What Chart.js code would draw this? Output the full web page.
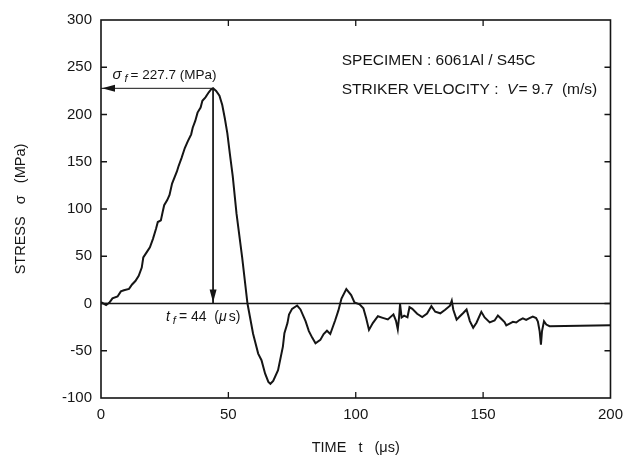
<!DOCTYPE html>
<html>
<head>
<meta charset="utf-8">
<script src="https://cdn.jsdelivr.net/npm/chart.js@4.4.1/dist/chart.umd.min.js"></script>
<style>
  html, body { margin: 0; padding: 0; background: #ffffff; }
  #wrap { width: 631px; height: 463px; }
</style>
</head>
<body>
<div id="wrap"><canvas id="c" width="631" height="463"></canvas></div>
<script>
// ---- data ----
const timeUs = [
  0, 2.0, 3.3, 4.5, 6.5, 7.8, 9.0, 11.0, 12.2, 13.5, 14.8, 16.0, 16.6, 17.9, 19.2, 20.4, 21.6, 22.3, 23.5, 24.2,
  24.8, 26.0, 26.9, 27.9, 29.8, 30.4, 31.6, 32.9, 34.1, 35.4, 36.0, 37.0, 37.9, 39.1, 39.8, 41.0, 42.3, 43.2, 44.0,
  45.2, 46.5, 47.6, 48.6, 49.6, 50.6, 51.7, 53.2, 55.4, 57.5, 59.7, 61.7, 63.0, 64.4, 65.7, 66.5, 67.6, 69.5,
  71.4, 72.0, 73.2, 73.8, 75.0, 77.0, 78.3, 80.3, 81.6, 82.9, 84.2, 86.1, 87.4, 88.7, 90.0, 91.9, 93.2, 94.4,
  96.3, 98.2, 99.5, 101.5, 103.0, 104.1, 105.2, 106.7, 108.7, 110.6, 112.6, 114.8, 115.8, 116.5, 117.0, 117.4,
  118.0, 119.0, 120.3, 121.1, 122.2, 124.1, 126.1, 128.0, 129.7, 131.2, 133.2, 135.1, 137.0, 137.7, 138.3,
  139.6, 140.9, 142.2, 143.5, 144.8, 146.1, 147.4, 149.3, 150.6, 152.6, 154.5, 155.8, 157.1, 158.4, 159.1,
  160.4, 161.7, 163.0, 164.3, 165.6, 166.9, 168.2, 169.5, 170.8, 171.5, 172.2, 172.7, 173.1, 173.9, 174.8,
  176.1, 200
];
const stressMPa = [
  1.5, -1.7, 0.9, 5.5, 7.4, 12.8, 14.0, 15.5, 20.1, 23.8, 29.2, 38.0, 48.7, 54.1, 59.4, 68.4, 79.0, 86.2, 88.0, 96.9,
  104.0, 109.4, 114.8, 126.9, 139.7, 145.0, 153.9, 164.5, 171.8, 179.0, 186.0, 193.2, 202.0, 207.4, 214.5, 218.2, 223.5, 226.5, 227.7,
  225, 220, 210, 196, 180, 158, 135, 95, 49, 0, -32, -53, -60, -74, -83, -85, -82, -70.5,
  -45.6, -31.4, -20.7, -11.8, -5.7, -2.1, -6.3, -18.7, -29.2, -36.1, -42.1, -38.5, -32.4, -28.8, -32.3, -18.0, -7.3, 5.2,
  15.2, 8.9, 1.2, -0.8, -5.0, -15.5, -27.9, -20.7, -13.5, -15.2, -16.9, -11.5, -18.4, -27.3, -14.8, -0.6,
  -14.8, -12.9, -14.6, -3.9, -5.7, -10.9, -14.3, -10.7, -2.8, -8.7, -10.4, -6.7, -2.3, 3.0, -6.6,
  -17.1, -13.5, -10.0, -6.3, -18.6, -25.7, -20.3, -8.8, -14.8, -20.0, -18.0, -12.7, -16.2, -19.6, -23.1,
  -21.2, -19.4, -20.1, -17.5, -15.7, -17.4, -15.5, -13.8, -15.4, -19.0, -29.5, -43.6, -29.5, -18.8, -22.3,
  -24.0, -23.0
];
const xTickValues = [0, 50, 100, 150, 200];
const yTickValues = [-100, -50, 0, 50, 100, 150, 200, 250, 300];
const peakTime = 44;      // t_f (µs)
const peakStress = 227.7; // sigma_f (MPa)
const specimenText = 'SPECIMEN : 6061Al / S45C';
const velocityValue = '9.7';

// ---- build datasets ----
const curve = timeUs.map((t, i) => ({ x: t, y: stressMPa[i] }));
const zeroLine = [{ x: xTickValues[0], y: 0 }, { x: xTickValues[xTickValues.length - 1], y: 0 }];
const hArrow = [{ x: peakTime, y: peakStress }, { x: 0, y: peakStress }];
const vArrow = [{ x: peakTime, y: peakStress }, { x: peakTime, y: 0 }];

const FONT = "'Liberation Sans', Arial, Helvetica, sans-serif";
const INK = '#151515';

function drawRich(ctx, x, y, parts) {
  let cx = x;
  ctx.textBaseline = 'middle';
  ctx.textAlign = 'left';
  for (const p of parts) {
    ctx.font = (p.italic ? 'italic ' : '') + p.size + 'px ' + FONT;
    const dy = p.sub ? p.size * 0.35 : 0;
    ctx.fillText(p.text, cx, y + dy);
    cx += ctx.measureText(p.text).width + (p.gap || 0);
  }
}

const framePlugin = {
  id: 'frame',
  afterDatasetsDraw(chart) {
    const { ctx, chartArea: a, scales } = chart;
    const xs = scales.x, ys = scales.y;
    ctx.save();
    ctx.strokeStyle = INK;
    ctx.fillStyle = INK;
    // frame box
    ctx.lineWidth = 1.6;
    ctx.strokeRect(a.left, a.top, a.right - a.left, a.bottom - a.top);
    // inward ticks
    ctx.lineWidth = 1.3;
    const L = 6;
    yTickValues.slice(1, -1).forEach(v => {
      const py = ys.getPixelForValue(v);
      ctx.beginPath();
      ctx.moveTo(a.left, py); ctx.lineTo(a.left + L, py);
      ctx.moveTo(a.right, py); ctx.lineTo(a.right - L, py);
      ctx.stroke();
    });
    xTickValues.slice(1, -1).forEach(v => {
      const px = xs.getPixelForValue(v);
      ctx.beginPath();
      ctx.moveTo(px, a.bottom); ctx.lineTo(px, a.bottom - L);
      ctx.moveTo(px, a.top); ctx.lineTo(px, a.top + L);
      ctx.stroke();
    });
    // arrowheads
    const ax = xs.getPixelForValue(0), ay = ys.getPixelForValue(peakStress);
    ctx.beginPath();
    ctx.moveTo(ax + 1, ay); ctx.lineTo(ax + 14, ay - 3.5); ctx.lineTo(ax + 14, ay + 3.5); ctx.closePath();
    ctx.fill();
    const bx = xs.getPixelForValue(peakTime), by = ys.getPixelForValue(0);
    ctx.beginPath();
    ctx.moveTo(bx, by - 1); ctx.lineTo(bx - 3.5, by - 14); ctx.lineTo(bx + 3.5, by - 14); ctx.closePath();
    ctx.fill();

    // annotation texts
    drawRich(ctx, xs.getPixelForValue(4.5), ay - 13, [
      { text: 'σ', italic: true, size: 15, gap: 3 },
      { text: 'f', italic: true, size: 11, sub: true, gap: 3 },
      { text: '= 227.7 (MPa)', size: 13.5 }
    ]);
    drawRich(ctx, xs.getPixelForValue(25.5), by + 14, [
      { text: 't', italic: true, size: 14, gap: 3 },
      { text: 'f', italic: true, size: 11, sub: true, gap: 3 },
      { text: '= 44  (', size: 14 },
      { text: 'μ', italic: true, size: 14, gap: 2 },
      { text: 's)', size: 14 }
    ]);
    const tx = xs.getPixelForValue(94.5);
    drawRich(ctx, tx, ys.getPixelForValue(257), [
      { text: specimenText, size: 15.5 }
    ]);
    drawRich(ctx, tx, ys.getPixelForValue(226), [
      { text: 'STRIKER VELOCITY :  ', size: 15.5 },
      { text: 'V', italic: true, size: 15.5, gap: 1 },
      { text: '= ' + velocityValue + '  (m/s)', size: 15.5 }
    ]);
    ctx.restore();
  }
};

new Chart(document.getElementById('c'), {
  type: 'scatter',
  data: {
    datasets: [
      { label: 'stress', data: curve, showLine: true, borderColor: INK, borderWidth: 2, pointRadius: 0, tension: 0, fill: false },
      { label: 'zero', data: zeroLine, showLine: true, borderColor: INK, borderWidth: 1.3, pointRadius: 0 },
      { label: 'sigma_f', data: hArrow, showLine: true, borderColor: INK, borderWidth: 1, pointRadius: 0 },
      { label: 't_f', data: vArrow, showLine: true, borderColor: INK, borderWidth: 1, pointRadius: 0 }
    ]
  },
  options: {
    responsive: false,
    animation: false,
    devicePixelRatio: 1,
    layout: { padding: { top: 20, right: 15, left: 0, bottom: 0 } },
    plugins: { legend: { display: false }, tooltip: { enabled: false } },
    scales: {
      x: {
        type: 'linear', min: 0, max: 200,
        afterBuildTicks: s => { s.ticks = xTickValues.map(v => ({ value: v })); },
        afterFit: s => { s.height = 65; },
        grid: { display: false, drawTicks: false },
        border: { display: false },
        ticks: { color: INK, font: { family: FONT, size: 15 }, padding: 8, maxRotation: 0 },
        title: { display: true, text: 'TIME   t   (μs)', color: INK, font: { family: FONT, size: 14.5 }, padding: { top: 0, bottom: 6 } }
      },
      y: {
        type: 'linear', min: -100, max: 300,
        afterBuildTicks: s => { s.ticks = yTickValues.map(v => ({ value: v })); },
        afterFit: s => { s.width = 101; },
        grid: { display: false, drawTicks: false },
        border: { display: false },
        ticks: { color: INK, font: { family: FONT, size: 15 }, padding: 9 },
        title: { display: true, text: 'STRESS   σ   (MPa)', color: INK, font: { family: FONT, size: 14.5 }, padding: { top: 12, bottom: 0 } }
      }
    }
  },
  plugins: [framePlugin]
});
</script>
</body>
</html>
